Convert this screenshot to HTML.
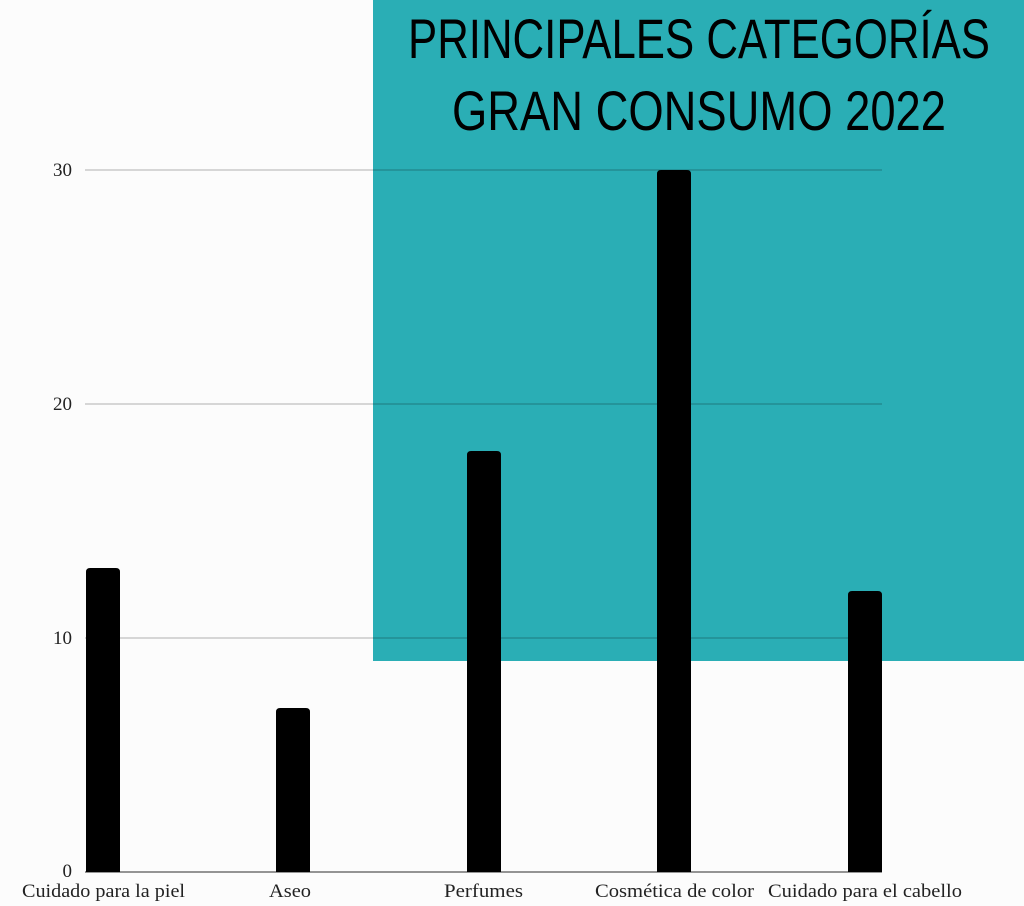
<!DOCTYPE html>
<html><head><meta charset="utf-8"><style>
html,body{margin:0;padding:0;background:#fcfcfc;}
svg{display:block}
</style></head><body>
<svg width="1024" height="906" viewBox="0 0 1024 906" xmlns="http://www.w3.org/2000/svg">
<rect width="1024" height="906" fill="#fcfcfc"/>
<rect x="373" y="0" width="651" height="661" fill="#2aaeb5"/>
<g font-family="'Liberation Sans Narrow','Liberation Sans',sans-serif" font-size="56" fill="#000">
<text x="408" y="58" textLength="582" lengthAdjust="spacingAndGlyphs">PRINCIPALES CATEGORÍAS</text>
<text x="452" y="130" textLength="494" lengthAdjust="spacingAndGlyphs">GRAN CONSUMO 2022</text>
</g>
<g stroke="#000" stroke-opacity="0.3" stroke-width="1">
<line x1="85" y1="170" x2="882" y2="170"/>
<line x1="85" y1="404" x2="882" y2="404"/>
<line x1="85" y1="638" x2="882" y2="638"/>
</g>
<line x1="85" y1="872" x2="882" y2="872" stroke="#555" stroke-width="1.2"/>
<g fill="#000">
<path d="M86 872V572q0-4 4-4h26q4 0 4 4V872Z"/>
<path d="M276 872V712q0-4 4-4h26q4 0 4 4V872Z"/>
<path d="M467 872V455q0-4 4-4h26q4 0 4 4V872Z"/>
<path d="M657 872V174q0-4 4-4h26q4 0 4 4V872Z"/>
<path d="M848 872V595q0-4 4-4h26q4 0 4 4V872Z"/>
</g>
<g font-family="'Liberation Serif',serif" font-size="19" fill="#222" text-anchor="end">
<text x="72" y="176">30</text>
<text x="72" y="410">20</text>
<text x="72" y="644">10</text>
<text x="72" y="877">0</text>
</g>
<g font-family="'Liberation Serif',serif" font-size="19" fill="#222">
<text x="22" y="897" textLength="163" lengthAdjust="spacingAndGlyphs">Cuidado para la piel</text>
<text x="269" y="897" textLength="42" lengthAdjust="spacingAndGlyphs">Aseo</text>
<text x="444" y="897" textLength="79" lengthAdjust="spacingAndGlyphs">Perfumes</text>
<text x="595" y="897" textLength="159" lengthAdjust="spacingAndGlyphs">Cosmética de color</text>
<text x="768" y="897" textLength="194" lengthAdjust="spacingAndGlyphs">Cuidado para el cabello</text>
</g>
</svg>
</body></html>
